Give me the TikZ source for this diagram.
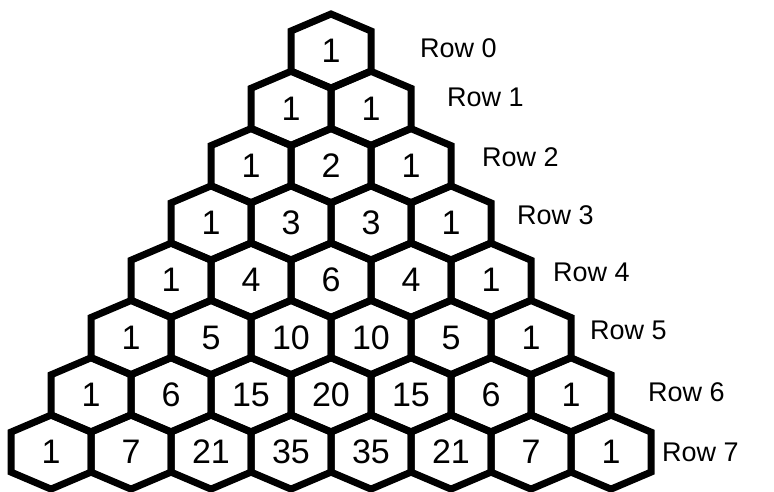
\documentclass[tikz,border=0pt]{standalone}
\usepackage{fontspec}
\setmainfont{Liberation Sans}
\newcommand\pascalhex[3]{%
  \pgfmathsetmacro\cx{331 + (#2 - #1/2)*80}%
  \pgfmathsetmacro\cy{51 + #1*57.3}%
  \draw[hexline] (\cx,\cy-37) -- (\cx+40,\cy-20) -- (\cx+40,\cy+20) -- (\cx,\cy+37) -- (\cx-40,\cy+20) -- (\cx-40,\cy-20) -- cycle;
  \node[num] (h-#1-#2) at (\cx,\cy) {#3};%
}
\begin{document}
\begin{tikzpicture}[x=1pt,y=-1pt,
  hexline/.style={line width=7pt, line join=miter},
  num/.style={font=\fontsize{34}{34}\selectfont, inner sep=0pt},
  rowlab/.style={font=\fontsize{27}{27}\selectfont, anchor=west, inner sep=0pt}]
\useasboundingbox (0,0) rectangle (774,491);
\foreach \v [count=\k from 0] in {1} {\pascalhex{0}{\k}{\v}}
\foreach \v [count=\k from 0] in {1,1} {\pascalhex{1}{\k}{\v}}
\foreach \v [count=\k from 0] in {1,2,1} {\pascalhex{2}{\k}{\v}}
\foreach \v [count=\k from 0] in {1,3,3,1} {\pascalhex{3}{\k}{\v}}
\foreach \v [count=\k from 0] in {1,4,6,4,1} {\pascalhex{4}{\k}{\v}}
\foreach \v [count=\k from 0] in {1,5,10,10,5,1} {\pascalhex{5}{\k}{\v}}
\foreach \v [count=\k from 0] in {1,6,15,20,15,6,1} {\pascalhex{6}{\k}{\v}}
\foreach \v [count=\k from 0] in {1,7,21,35,35,21,7,1} {\pascalhex{7}{\k}{\v}}
\node[rowlab] (lab0) at (420,48) {Row 0};
\node[rowlab] (lab1) at (447,97) {Row 1};
\node[rowlab] (lab2) at (482,157) {Row 2};
\node[rowlab] (lab3) at (517,215) {Row 3};
\node[rowlab] (lab4) at (553,272) {Row 4};
\node[rowlab] (lab5) at (590,330) {Row 5};
\node[rowlab] (lab6) at (648,392) {Row 6};
\node[rowlab] (lab7) at (662,452) {Row 7};
\end{tikzpicture}
\end{document}
